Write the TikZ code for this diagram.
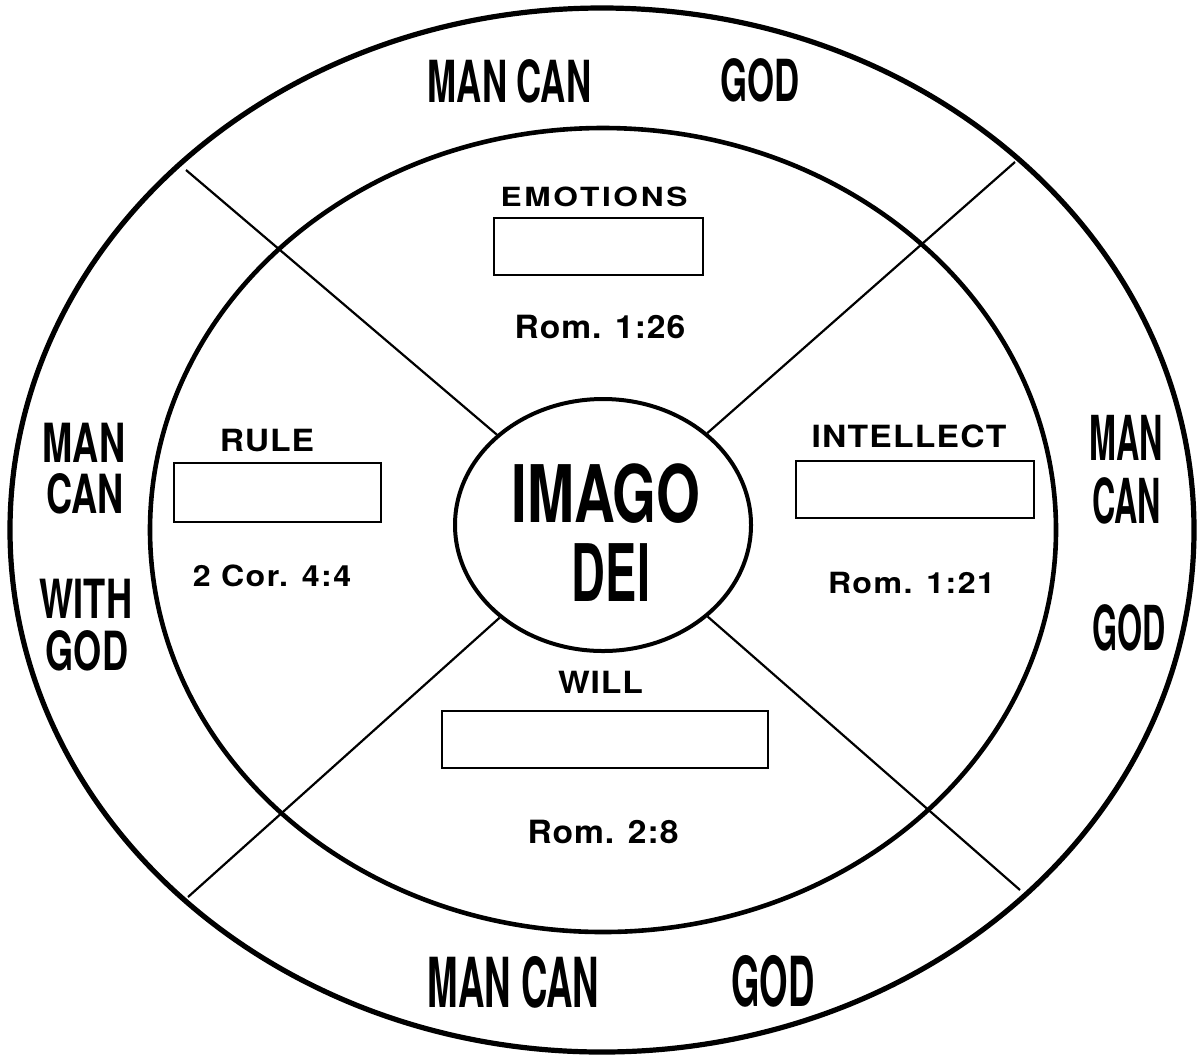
\documentclass[tikz,border=0pt]{standalone}
\usepackage{fontspec}
\setmainfont{TeX Gyre Heros}
% size, horizontal stretch, letter spacing, text
\newcommand\lab[4]{{\fontsize{#1}{#1}\selectfont\bfseries\addfontfeatures{FakeStretch=#2,LetterSpace=#3}#4}}
% size, horizontal stretch, text
\newcommand\cnd[3]{{\fontsize{#1}{#1}\selectfont\bfseries\addfontfeatures{FakeStretch=#2}#3}}
\usetikzlibrary{shapes.geometric}
\begin{document}
\begin{tikzpicture}[x=0.5pt,y=-0.5pt,
  ring/.style={draw, ellipse, inner sep=0pt},
  frame/.style={draw, line width=0.8pt, inner sep=0pt, rectangle},
  spoke/.style={line width=1.1pt},
  txt/.style={inner sep=0pt, outer sep=0pt}]
\useasboundingbox (0,0) rectangle (1197,1056);
% rings
\node[ring, line width=2.6pt, minimum width=592pt, minimum height=522pt] (outer) at (602,530) {};
\node[ring, line width=2.3pt, minimum width=453pt, minimum height=402pt] (inner) at (603,530) {};
\node[ring, line width=2pt, minimum width=148pt, minimum height=126pt] (imago) at (603,525) {};
% spoke ends on the outer ring
\coordinate (tl) at (186,170);
\coordinate (tr) at (1015,162);
\coordinate (bl) at (188,897);
\coordinate (br) at (1020,890);
\draw[spoke] (imago) -- (tl);
\draw[spoke] (imago) -- (tr);
\draw[spoke] (imago) -- (bl);
\draw[spoke] (imago) -- (br);
% centre
\node[txt] (imagot) at (606,493.5) {\cnd{39.7}{0.71}{IMAGO}};
\node[txt] (deit) at (611,572.5) {\cnd{39.7}{0.59}{DEI}};
% outer ring texts
\node[txt] (topman) at (509.5,81) {\cnd{29}{0.6}{MAN CAN}};
\node[txt] (topgod) at (760,80.5) {\cnd{29}{0.6}{GOD}};
\node[txt] (botman) at (513.5,982) {\cnd{34.5}{0.53}{MAN CAN}};
\node[txt] (botgod) at (773,981.5) {\cnd{34.5}{0.53}{GOD}};
\node[txt] (lman) at (84,442.5) {\cnd{27}{0.67}{MAN}};
\node[txt] (lcan) at (85,494) {\cnd{27}{0.67}{CAN}};
\node[txt] (lwith) at (86,598.5) {\cnd{27}{0.67}{WITH}};
\node[txt] (lgod) at (87,651) {\cnd{27}{0.67}{GOD}};
\node[txt] (rman) at (1126,437.5) {\cnd{31}{0.52}{MAN}};
\node[txt] (rcan) at (1126.5,500.5) {\cnd{31}{0.52}{CAN}};
\node[txt] (rgod) at (1129,627.5) {\cnd{31}{0.52}{GOD}};
% quadrants
\node[txt] (emot) at (594,196.5) {\lab{13.2}{1.2}{10}{EMOTIONS}};
\node[frame, minimum width=104.5pt, minimum height=28.5pt] (emotbox) at (598.5,246.5) {};
\node[txt] (rom126) at (600,327) {\lab{16}{1.05}{3}{Rom. 1:26}};
\node[txt] (rule) at (267,441) {\lab{15.3}{1.1}{3}{RULE}};
\node[frame, minimum width=103.5pt, minimum height=29.5pt] (rulebox) at (277.5,492.5) {};
\node[txt] (cor) at (272,575.5) {\lab{14.6}{1.1}{5}{2 Cor. 4:4}};
\node[txt] (intel) at (909,436) {\lab{15.3}{1.1}{4}{INTELLECT}};
\node[frame, minimum width=119pt, minimum height=28.5pt] (intelbox) at (915,489.5) {};
\node[txt] (rom121) at (911.5,582.5) {\lab{14.6}{1.1}{5}{Rom. 1:21}};
\node[txt] (will) at (600.5,682) {\lab{15.3}{1.1}{3}{WILL}};
\node[frame, minimum width=163pt, minimum height=28.5pt] (willbox) at (605,739.5) {};
\node[txt] (rom28) at (603,831.5) {\lab{16}{1.05}{3}{Rom. 2:8}};
\end{tikzpicture}
\end{document}
